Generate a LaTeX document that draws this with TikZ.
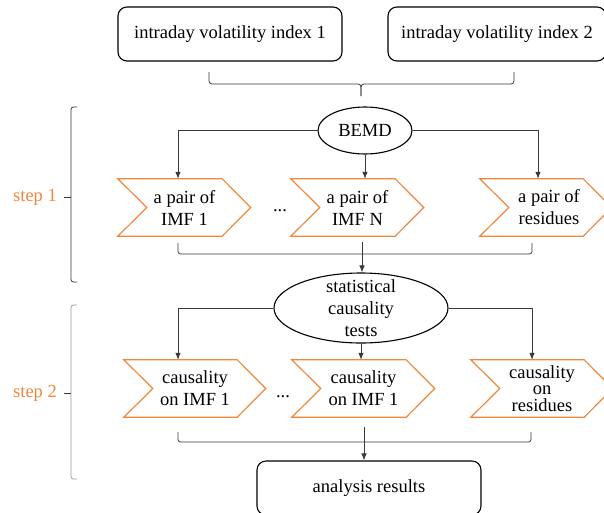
\documentclass[tikz,border=0pt]{standalone}
\usepackage{fontspec}
\setmainfont{Liberation Serif}
\usetikzlibrary{shapes.geometric,calc,arrows.meta}
\definecolor{orng}{HTML}{F0883E}
\definecolor{lgray}{HTML}{3A3A3A}
\definecolor{bgray}{HTML}{9A9A9A}
\tikzset{
  txt/.style={font=\fontsize{18.5}{22}\selectfont, align=center, text=black},
  topbox/.style={txt, draw=black, line width=1.1pt, rounded corners=9pt, inner sep=0pt},
  ell/.style={txt, draw=black, line width=1.1pt, shape=ellipse, inner sep=0pt},
  chevbody/.style={txt, draw=none, inner sep=0pt, minimum height=57},
  chevline/.style={draw=orng, line width=1.2pt, line join=miter},
  conn/.style={draw=lgray, line width=0.8pt},
  arr/.style={conn, -{Latex[length=7pt,width=5.5pt]}},
  bracketline/.style={draw=lgray, line width=0.8pt, rounded corners=2.5pt},
  steplabel/.style={font=\fontsize{18.5}{22}\selectfont, text=orng}
}
\newcommand\mychev[1]{\draw[chevline] ($(#1.north west)+(-29,0)$) -- (#1.west) -- ($(#1.south west)+(-29,0)$) -- (#1.south east) -- ($(#1.east)+(28.5,0)$) -- (#1.north east) -- cycle;}
\begin{document}
\begin{tikzpicture}[x=1pt,y=-1pt]
\useasboundingbox (0,0) rectangle (604,512);
% top inputs
\node[topbox, minimum width=224, minimum height=54] (in1) at (230,34) {intraday volatility index 1};
\node[topbox, minimum width=218, minimum height=54] (in2) at (497,34) {\raisebox{2pt}{intraday volatility index 2}};
% top brace
\coordinate (tb1) at (209,72);
\coordinate (tb2) at (514,72);
\coordinate (tbm) at (361,84);
\coordinate (tbe) at (361,96);
\draw[conn, rounded corners=3pt] (tb1) |- (tbm) -- (tbe);
\draw[conn, rounded corners=3pt] (tb2) |- (tbm) -- (tbe);
% BEMD
\node[ell, minimum width=94, minimum height=47] (bemd) at (365,130.5) {BEMD};
% step 1 chevrons
\node[chevbody, minimum width=75] (c1) at (184.5,207.5) {a pair of\\IMF 1};
\node[chevbody, minimum width=75] (c2) at (357.5,207.5) {a pair of\\IMF N};
\node[chevbody, minimum width=74] (c3) at (546,207.5) {\hspace*{6pt}a pair of\\\hspace*{6pt}residues};
\mychev{c1}\mychev{c2}\mychev{c3}
\node[txt] (dots1) at (280,211) {...};
\draw[arr] (bemd.west) -| ([xshift=-6.5]c1.north);
\draw[arr] (bemd.south) -- (bemd.south |- c2.north);
\draw[arr] (bemd.east) -| ([xshift=-8]c3.north);
% bracket 1
\coordinate (k1l) at (178,243);
\coordinate (k1r) at (532,243);
\coordinate (k1b) at (355,254);
\coordinate (k1m) at (362,242);
\draw[bracketline] (k1l) |- (k1b) -| (k1r);
% statistical tests
\node[ell, minimum width=174, minimum height=70, inner ysep=-8pt] (stat) at (361,308) {statistical\\causality\\tests};
\draw[arr] (k1m) -- (k1m |- stat.north);
% step 2 chevrons
\node[chevbody, minimum width=84] (d1) at (195,388.5) {causality\\on IMF 1};
\node[chevbody, minimum width=85] (d2) at (363.5,388.5) {causality\\on IMF 1};
\node[chevbody, minimum width=84, font=\fontsize{18.5}{16.5}\selectfont] (d3) at (542,388.5) {causality\\on\\residues};
\mychev{d1}\mychev{d2}\mychev{d3}
\node[txt] (dots2) at (283,397) {...};
\draw[arr] (stat.west) -| ([xshift=-17]d1.north);
\draw[arr] (stat.south) -- (stat.south |- d2.north);
\draw[arr] (stat.east) -| ([xshift=-10]d3.north);
% bracket 2
\coordinate (k2l) at (178,432);
\coordinate (k2r) at (531,432);
\coordinate (k2b) at (355,442);
\coordinate (k2m) at (364,427);
\draw[bracketline] (k2l) |- (k2b) -| (k2r);
% result
\node[topbox, minimum width=224, minimum height=54] (res) at (369,488) {analysis results};
\draw[arr] (k2m) -- (k2m |- res.north);
% step brackets
\node[steplabel] (s1) at (35,197) {step 1};
\node[steplabel] (s2) at (35,393) {step 2};
\coordinate (sb1t) at (77,107);
\coordinate (sb1b) at (77,282);
\coordinate (sb1m) at (71,197);
\coordinate (sb1k) at (64,197);
\draw[bracketline] (sb1t) -- (71,107) -- (71,282) -- (sb1b);
\draw[conn] (sb1k) -- (sb1m);
\coordinate (sb2t) at (77,305);
\coordinate (sb2b) at (77,479);
\coordinate (sb2m) at (71,393);
\coordinate (sb2k) at (64,393);
\draw[bracketline, draw=bgray] (sb2t) -- (71,305) -- (71,479) -- (sb2b);
\draw[conn] (sb2k) -- (sb2m);
\end{tikzpicture}
\end{document}
